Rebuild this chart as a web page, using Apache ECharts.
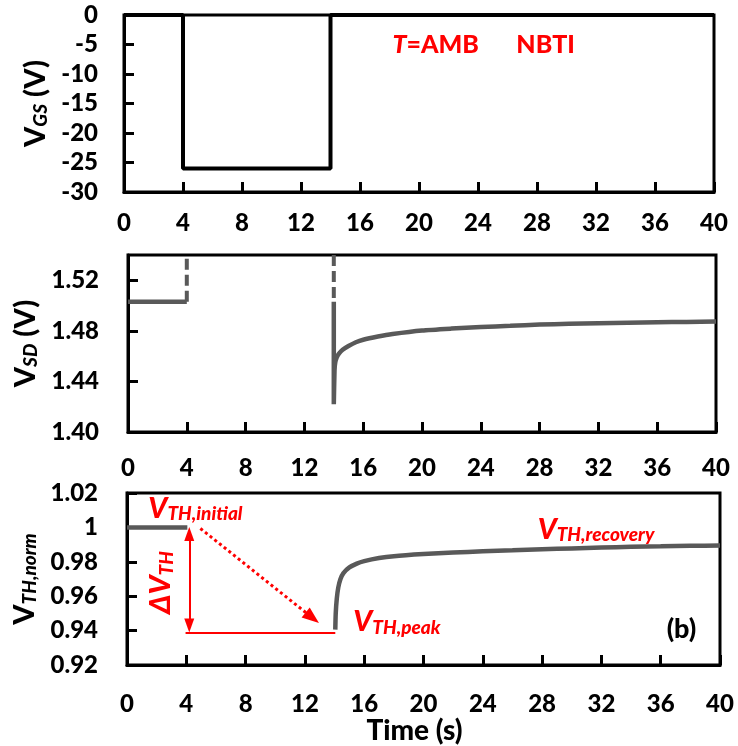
<!DOCTYPE html>
<html><head><meta charset="utf-8">
<script src="https://cdn.jsdelivr.net/npm/echarts@6/dist/echarts.min.js"></script>
<style>html,body{margin:0;padding:0;background:#fff}#c{width:738px;height:746px}</style>
</head><body><div id="c"></div>
<script>
const FONT = 'Lato';
const W = 900;
const RED = '#ff0000';
const GRAY = '#595959';

// tick values
const timeTicks = [0, 4, 8, 12, 16, 20, 24, 28, 32, 36, 40];
const vgsTicks = [-30, -25, -20, -15, -10, -5, 0];
const vsdTicks = [1.40, 1.44, 1.48, 1.52, 1.54];
const vthTicks = [0.92, 0.94, 0.96, 0.98, 1.00, 1.02];

// panel 1: gate voltage
const vgsTime = [0, 4, 4, 14, 14, 40];
const vgsValue = [0, 0, -26, -26, 0, 0];

// panel 2: source-drain voltage
const vsdPreTime = [0, 4];
const vsdPreValue = [1.503, 1.503];
const vsdDashATime = [4, 4];
const vsdDashAValue = [1.503, 1.54];
const vsdDashBTime = [14, 14];
const vsdDashBValue = [1.54, 1.503];
const vsdRecTime = [14, 14, 14.05, 14.1, 14.2, 14.35, 14.6, 15, 15.5, 16, 17, 18, 20, 22, 24, 26, 28, 30, 32, 34, 36, 38, 40];
const vsdRecValue = [1.503, 1.422, 1.449, 1.455, 1.459, 1.462, 1.465, 1.468, 1.471, 1.473, 1.4755, 1.4775, 1.4803, 1.4818, 1.483, 1.484, 1.485, 1.4856, 1.486, 1.4864, 1.4868, 1.4871, 1.4874];

// panel 3: normalised threshold voltage
const vthPreTime = [0, 4.07];
const vthPreValue = [1, 1];
const vthRecTime = [14.05, 14.08, 14.15, 14.25, 14.4, 14.6, 15, 15.5, 16, 17, 18, 20, 22, 24, 26, 28, 30, 32, 34, 36, 38, 40];
const vthRecValue = [0.9406, 0.950, 0.9585, 0.9650, 0.9700, 0.9735, 0.9768, 0.9790, 0.9804, 0.9822, 0.9833, 0.9845, 0.9854, 0.9861, 0.9867, 0.9873, 0.9878, 0.9883, 0.9887, 0.9890, 0.9893, 0.9895];

const zip = (a, b) => a.map((t, i) => [t, b[i]]);

const chart = echarts.init(document.getElementById('c'), null, {renderer: 'canvas'});

const grids = [
  {left: 124, top: 15, width: 590, height: 177},
  {left: 128, top: 255, width: 588, height: 177},
  {left: 127, top: 493, width: 593, height: 176}
];

const tickStyle = () => ({show: true, inside: true, length: 10, lineStyle: {color: '#000', width: 3}});
const lineAxis = () => ({show: true, onZero: false, lineStyle: {color: '#000', width: 3}});

function xAxis(i, margin, name) {
  return {
    type: 'value', gridIndex: i,
    min: timeTicks[0], max: timeTicks[timeTicks.length - 1], interval: timeTicks[1] - timeTicks[0],
    axisLine: lineAxis(),
    axisTick: tickStyle(),
    axisLabel: {margin: margin, color: '#000', fontSize: 24, fontWeight: W, fontFamily: FONT},
    splitLine: {show: false},
    name: name || '',
    nameLocation: 'middle', nameGap: 38,
    nameTextStyle: {fontSize: 28, fontWeight: W, fontFamily: FONT, color: '#000', padding: [0, 18, 0, 0]}
  };
}
const nameRich = {
  v: {fontSize: 29, fontWeight: W, fontFamily: FONT, color: '#000', lineHeight: 30},
  s: {fontSize: 19, fontStyle: 'italic', fontWeight: W, fontFamily: FONT, color: '#000', verticalAlign: 'bottom', lineHeight: 16}
};
function yAxis(i, ticks, fmt, name, gap, margin) {
  return {
    type: 'value', gridIndex: i,
    min: ticks[0], max: ticks[ticks.length - 1], interval: +(ticks[1] - ticks[0]).toFixed(6),
    axisLine: lineAxis(),
    axisTick: tickStyle(),
    axisLabel: {margin: margin, color: '#000', fontSize: 24, fontWeight: W, fontFamily: FONT, formatter: fmt, showMaxLabel: i !== 1},
    splitLine: {show: false},
    name: name, nameLocation: 'middle', nameGap: gap,
    nameTextStyle: {rich: nameRich}
  };
}

const option = {
  animation: false,
  backgroundColor: '#fff',
  grid: grids.map(g => Object.assign({show: true, borderColor: '#000', borderWidth: 3, backgroundColor: 'transparent'}, g)),
  xAxis: [xAxis(0, 19), xAxis(1, 24), xAxis(2, 27, 'Time (s)')],
  yAxis: [
    yAxis(0, vgsTicks, v => String(v), '{v|V}{s|GS}{v| (V)}', 68, 26),
    yAxis(1, vsdTicks, v => v.toFixed(2), '{v|V}{s|SD}{v| (V)}', 80, 29),
    yAxis(2, vthTicks, v => Math.abs(v - 1) < 1e-9 ? '1' : v.toFixed(2), '{v|V}{s|TH,norm}', 84, 29)
  ],
  series: [
    {type: 'line', xAxisIndex: 0, yAxisIndex: 0, data: zip(vgsTime, vgsValue), showSymbol: false, symbol: 'none',
      lineStyle: {color: '#000', width: 4}, z: 5},
    {type: 'line', xAxisIndex: 1, yAxisIndex: 1, data: zip(vsdPreTime, vsdPreValue), symbol: 'none',
      lineStyle: {color: GRAY, width: 4.5}},
    {type: 'line', xAxisIndex: 1, yAxisIndex: 1, data: zip(vsdDashATime, vsdDashAValue), symbol: 'none',
      lineStyle: {color: GRAY, width: 4, type: [11, 5]}},
    {type: 'line', xAxisIndex: 1, yAxisIndex: 1, data: zip(vsdDashBTime, vsdDashBValue), symbol: 'none',
      lineStyle: {color: GRAY, width: 4, type: [11, 5]}},
    {type: 'line', xAxisIndex: 1, yAxisIndex: 1, data: zip(vsdRecTime, vsdRecValue), symbol: 'none', smooth: 0.2,
      lineStyle: {color: GRAY, width: 4.5}},
    {type: 'line', xAxisIndex: 2, yAxisIndex: 2, data: zip(vthPreTime, vthPreValue), symbol: 'none',
      lineStyle: {color: GRAY, width: 4.5}},
    {type: 'line', xAxisIndex: 2, yAxisIndex: 2, data: zip(vthRecTime, vthRecValue), symbol: 'none', smooth: 0.2,
      lineStyle: {color: GRAY, width: 4.5},
      markLine: {
        silent: true, animation: false, label: {show: false}, emphasis: {disabled: true},
        data: [
          [{coord: [4.2, 0.9962], symbol: 'triangle', symbolSize: [10, 14]},
           {coord: [4.2, 0.9430], symbol: 'triangle', symbolSize: [10, 14]}],
          [{coord: [3.95, 0.9389], symbol: 'none'}, {coord: [14.05, 0.9389], symbol: 'none'}],
          [{coord: [4.95, 0.9994], symbol: 'none'}, {coord: [12.5, 0.9475], symbol: 'triangle', symbolSize: [13, 17]}]
        ].map((d, i) => {
          d[0].lineStyle = {color: RED, width: i === 2 ? 3 : 2, type: i === 2 ? [3, 3] : 'solid'};
          return d;
        })
      }}
  ]
};
chart.setOption(option);

// annotation texts (data coordinates per panel)
const redRich = {
  v: {fontSize: 29, fontStyle: 'italic', fontWeight: W, fontFamily: FONT, fill: RED, lineHeight: 30},
  s: {fontSize: 19, fontStyle: 'italic', fontWeight: W, fontFamily: FONT, fill: RED, verticalAlign: 'bottom', lineHeight: 16},
  n: {fontSize: 25, fontWeight: W, fontFamily: FONT, fill: RED},
  i: {fontSize: 25, fontStyle: 'italic', fontWeight: W, fontFamily: FONT, fill: RED},
  b: {fontSize: 27, fontWeight: W, fontFamily: FONT, fill: '#000'}
};
const notes = [
  {p: 0, at: [18.2, -5.1], text: '{i|T}{n|=AMB}'},
  {p: 0, at: [26.6, -5.1], text: '{n|NBTI}'},
  {p: 2, at: [1.44, 1.0109], text: '{v|V}{s|TH,initial}'},
  {p: 2, at: [15.26, 0.9451], text: '{v|V}{s|TH,peak}'},
  {p: 2, at: [27.7, 0.9989], text: '{v|V}{s|TH,recovery}'},
  {p: 2, at: [36.4, 0.9406], text: '{b|(b)}'},
  {p: 2, at: [2.3, 0.968], text: '{v|ΔV}{s|TH}', rot: true}
];
const graphics = notes.map(n => {
  const px = chart.convertToPixel({xAxisIndex: n.p, yAxisIndex: n.p}, n.at);
  return {
    type: 'text', x: px[0], y: px[1], rotation: n.rot ? Math.PI / 2 : 0, z: 20,
    style: {text: n.text, rich: redRich, align: n.rot ? 'center' : 'left', verticalAlign: 'middle'}
  };
});
chart.setOption({graphic: graphics});
</script></body></html>
